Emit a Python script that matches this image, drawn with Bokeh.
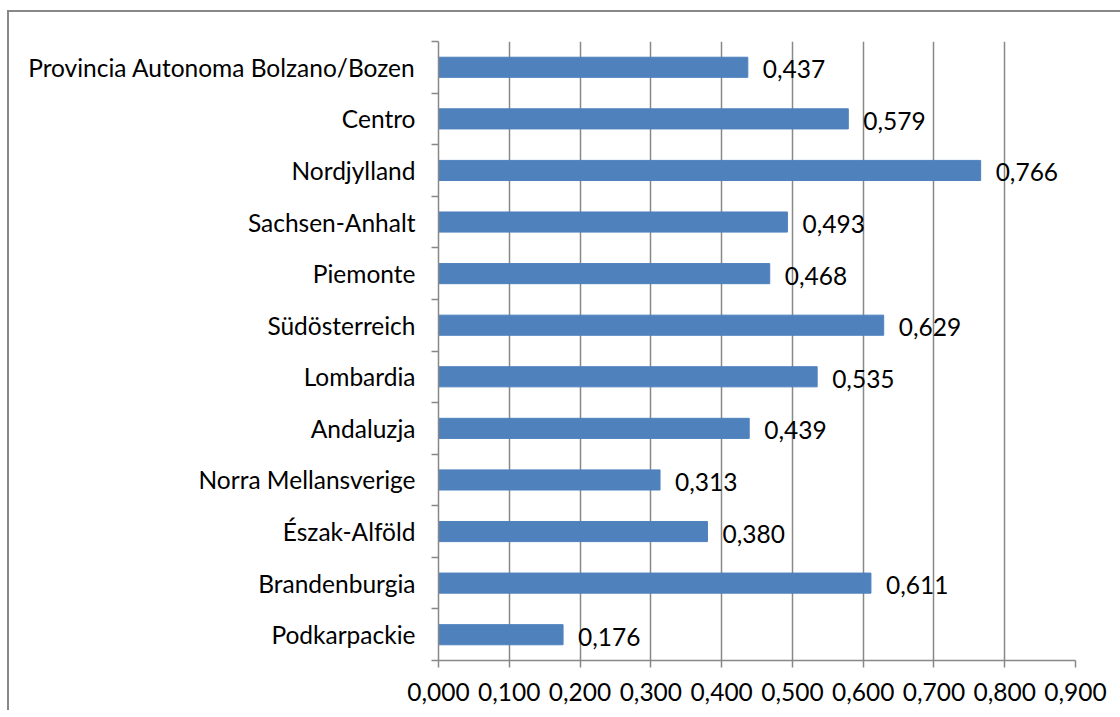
from bokeh.plotting import figure
from bokeh.models import FixedTicker, ColumnDataSource, Range1d
from bokeh.core.properties import value
from bokeh.embed import file_html
from bokeh.resources import INLINE

categories = ["Provincia Autonoma Bolzano/Bozen", "Centro", "Nordjylland", "Sachsen-Anhalt",
              "Piemonte", "Südösterreich", "Lombardia", "Andaluzja", "Norra Mellansverige",
              "Észak-Alföld", "Brandenburgia", "Podkarpackie"]
values = [0.437, 0.579, 0.766, 0.493, 0.468, 0.629, 0.535, 0.439, 0.313, 0.380, 0.611, 0.176]
x_ticks = [0.0, 0.1, 0.2, 0.3, 0.4, 0.5, 0.6, 0.7, 0.8, 0.9]

n = len(categories)
ypos = [n - 0.5 - i for i in range(n)]
labels = [f"{v:.3f}".replace(".", ",") for v in values]

FONT = "Lato"
FS = "24.5px"
GRID = "#888888"

src = ColumnDataSource(dict(y=ypos, v=values, lab=labels))

p = figure(frame_width=637, frame_height=619, min_border_left=429, min_border_top=29,
           min_border_right=45, min_border_bottom=50,
           x_range=Range1d(0, 0.9), y_range=Range1d(0, n),
           output_backend="svg", toolbar_location=None)
p.styles = {"border-left": f"2px solid {GRID}", "border-top": f"2px solid {GRID}",
            "margin-left": "7px", "margin-top": "10px"}
p.outline_line_color = None
p.background_fill_color = "white"
p.border_fill_color = "white"

p.hbar(y="y", right="v", left=0, height=0.39, color="#4F81BD", source=src)
p.text(x="v", y="y", text="lab", source=src, x_offset=15, y_offset=2,
       text_align="left", text_baseline="middle", text_font=value(FONT),
       text_font_size=FS, text_color="black")

# x axis
p.xaxis.ticker = FixedTicker(ticks=x_ticks)
p.xaxis.major_label_overrides = {t: f"{t:.3f}".replace(".", ",") for t in x_ticks}
p.xaxis.major_label_text_font = FONT
p.xaxis.major_label_text_font_size = FS
p.xaxis.major_label_text_color = "black"
p.xaxis.major_label_standoff = 15
p.xaxis.axis_line_color = GRID
p.xaxis.axis_line_width = 1.5
p.xaxis.major_tick_line_color = GRID
p.xaxis.major_tick_line_width = 1.5
p.xaxis.major_tick_out = 7
p.xaxis.major_tick_in = 0
p.xaxis.minor_tick_line_color = None

# y axis
p.yaxis.ticker = FixedTicker(ticks=ypos, minor_ticks=list(range(n + 1)))
p.yaxis.major_label_overrides = {y: c for y, c in zip(ypos, categories)}
p.yaxis.major_label_text_font = FONT
p.yaxis.major_label_text_font_size = FS
p.yaxis.major_label_text_color = "black"
p.yaxis.major_label_standoff = 16
p.yaxis.axis_line_color = GRID
p.yaxis.axis_line_width = 1.5
p.yaxis.major_tick_line_color = None
p.yaxis.minor_tick_line_color = GRID
p.yaxis.minor_tick_line_width = 1.5
p.yaxis.minor_tick_out = 7
p.yaxis.minor_tick_in = 0

p.xgrid.ticker = FixedTicker(ticks=x_ticks)
p.xgrid.grid_line_color = GRID
p.xgrid.grid_line_width = 1.5
p.ygrid.grid_line_color = None

open("out.html", "w").write(file_html(p, INLINE))
